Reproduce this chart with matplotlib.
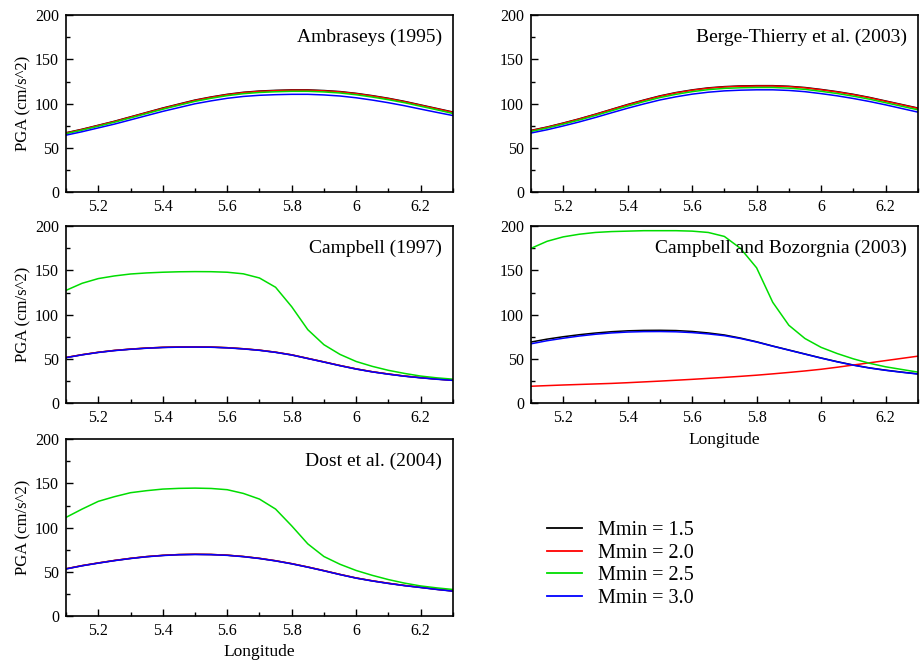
import numpy as np
import matplotlib
matplotlib.use("Agg")
import matplotlib.pyplot as plt
from matplotlib.ticker import MultipleLocator

plt.rcParams["font.family"] = ["Liberation Serif", "DejaVu Serif"]

# --- data: PGA along longitude, one curve per Mmin ---
lon = [5.10, 5.15, 5.20, 5.25, 5.30, 5.35, 5.40, 5.45, 5.50, 5.55, 5.60, 5.65, 5.70,
       5.75, 5.80, 5.85, 5.90, 5.95, 6.00, 6.05, 6.10, 6.15, 6.20, 6.25, 6.30]

mmin_labels = ["Mmin = 1.5", "Mmin = 2.0", "Mmin = 2.5", "Mmin = 3.0"]
colors = ["black", "#ff0000", "#00dd00", "#0000ff"]

# Ambraseys (1995)
amb_15 = [67, 71, 75.5, 80, 85, 90, 95, 99.5, 104, 107.5, 110.5, 112.8, 114.2,
          115, 115.5, 115.5, 114.8, 113.6, 111.6, 109, 106, 102.5, 98.5, 94.5, 90.5]
amb_20 = [66.7, 70.7, 75.2, 79.7, 84.7, 89.7, 94.6, 99.1, 103.6, 107.1, 110.1, 112.4, 113.8,
          114.6, 115.1, 115.1, 114.4, 113.2, 111.2, 108.6, 105.6, 102.1, 98.1, 94.1, 90.1]
amb_25 = [66, 70, 74.4, 78.9, 83.8, 88.7, 93.6, 98.1, 102.5, 106, 109, 111.2, 112.6,
          113.4, 113.9, 113.9, 113.2, 112, 110, 107.4, 104.4, 101, 97, 93, 88.8]
amb_30 = [64.3, 68.2, 72.5, 76.8, 81.6, 86.4, 91.2, 95.5, 99.8, 103.1, 106, 108.1, 109.4,
          110.1, 110.5, 110.5, 109.8, 108.6, 106.6, 104, 101, 97.6, 93.8, 90.1, 86.5]

# Berge-Thierry et al. (2003)
bt_15 = [69.7, 73.5, 78, 82.8, 88, 93.5, 99, 104, 108.7, 112.5, 115.5, 117.8, 119.2,
         120, 120.3, 120.3, 119.6, 118.2, 116, 113.5, 110.5, 107, 103, 99, 95]
bt_20 = [69.4, 73.2, 77.7, 82.5, 87.7, 93.2, 98.6, 103.6, 108.3, 112.1, 115.1, 117.4, 118.8,
         119.6, 119.9, 119.9, 119.2, 117.8, 115.6, 113.1, 110.1, 106.6, 102.6, 98.6, 94.6]
bt_25 = [68.5, 72.3, 76.7, 81.4, 86.5, 91.9, 97.2, 102.2, 106.8, 110.5, 113.5, 115.8, 117.2,
         117.9, 118.2, 118.2, 117.5, 116.1, 113.9, 111.4, 108.4, 105, 101, 97, 93]
bt_30 = [66.7, 70.4, 74.7, 79.3, 84.3, 89.6, 94.8, 99.6, 104.1, 107.7, 110.7, 112.9, 114.4,
         115.2, 115.6, 115.6, 114.9, 113.5, 111.3, 108.8, 105.8, 102.4, 98.6, 94.5, 90.4]

# Campbell (1997)
camp_15 = [51.5, 54.7, 57.4, 59.5, 61, 62.2, 63, 63.4, 63.5, 63.3, 62.6, 61.4, 59.8,
           57.5, 54.5, 50.5, 46.5, 42.4, 38.6, 35.4, 32.8, 30.5, 28.7, 27.1, 25.8]
camp_20 = camp_15
camp_25 = [127.5, 135.5, 140.8, 143.8, 146, 147.2, 148, 148.5, 148.7, 148.6, 148, 146.2, 141.5,
           131, 109, 83, 66, 55, 47, 41.5, 37, 33.5, 30.5, 28.5, 27]
camp_30 = [51.3, 54.5, 57.2, 59.3, 60.8, 62, 62.8, 63.2, 63.3, 63.1, 62.4, 61.2, 59.6,
           57.3, 54.3, 50.3, 46.3, 42.2, 38.4, 35.2, 32.6, 30.3, 28.5, 26.9, 25.6]

# Campbell and Bozorgnia (2003)
cb_15 = [69, 72.3, 75, 77.3, 79.2, 80.7, 81.7, 82.2, 82.3, 82, 81, 79.3, 77,
         73.5, 69.3, 64.5, 60, 55.5, 51, 46.8, 43, 39.8, 37.2, 35, 33]
cb_20 = [19, 19.7, 20.4, 21, 21.6, 22.2, 23, 23.9, 24.8, 25.8, 26.8, 27.9, 29,
         30.2, 31.5, 33, 34.6, 36.3, 38.2, 40.5, 43, 45.5, 48, 50.5, 53]
cb_25 = [175, 183, 188, 191, 193, 194, 194.5, 195, 195, 195, 194.5, 193, 188.5,
         175, 153, 114, 88, 73, 63, 56, 50, 45, 41, 38, 35]
cb_30 = [67, 70.5, 73.3, 75.8, 77.8, 79.3, 80.3, 80.8, 80.9, 80.6, 79.7, 78.2, 76.2,
         73, 69, 64.3, 59.8, 55.3, 50.8, 46.6, 42.8, 39.6, 37, 34.8, 32.8]

# Dost et al. (2004)
dost_15 = [53.4, 57, 60, 62.8, 65.2, 67.2, 68.6, 69.5, 69.8, 69.6, 68.8, 67.3, 65.2,
           62.5, 59.2, 55.4, 51.3, 47, 43, 39.8, 37, 34.5, 32.4, 30.2, 28.3]
dost_20 = dost_15
dost_25 = [111.6, 121, 129.7, 135, 139.5, 141.8, 143.6, 144.4, 144.7, 144.3, 142.9, 138.7, 132.3,
           121, 102, 81.6, 67.3, 58.5, 51.5, 46, 41.2, 37.2, 34, 31.8, 30]
dost_30 = [53.2, 56.8, 59.8, 62.6, 65, 67, 68.4, 69.3, 69.6, 69.4, 68.6, 67.1, 65,
           62.3, 59, 55.2, 51.1, 46.8, 42.8, 39.6, 36.8, 34.3, 32.2, 30, 28.1]

panels = [
    ("Ambraseys (1995)", [amb_15, amb_20, amb_25, amb_30]),
    ("Berge-Thierry et al. (2003)", [bt_15, bt_20, bt_25, bt_30]),
    ("Campbell (1997)", [camp_15, camp_20, camp_25, camp_30]),
    ("Campbell and Bozorgnia (2003)", [cb_15, cb_20, cb_25, cb_30]),
    ("Dost et al. (2004)", [dost_15, dost_20, dost_25, dost_30]),
]

fig = plt.figure(figsize=(9.21, 6.62), dpi=100)

# axes boxes in figure fractions: left col, right col; three rows
col_x = [0.0717, 0.5765]
col_w = 0.420
row_y = [0.710, 0.3912, 0.0695]
row_h = 0.267

for i, (title, series) in enumerate(panels):
    r, c = divmod(i, 2)
    ax = fig.add_axes([col_x[c], row_y[r], col_w, row_h])
    for vals, col in zip(series, colors):
        ax.plot(lon, vals, color=col, lw=1.1)
    ax.set_xlim(5.1, 6.3)
    ax.set_ylim(0, 200)
    ax.set_xticks([5.2, 5.4, 5.6, 5.8, 6.0, 6.2])
    ax.set_xticklabels(["5.2", "5.4", "5.6", "5.8", "6", "6.2"])
    ax.set_yticks([0, 50, 100, 150, 200])
    ax.xaxis.set_minor_locator(MultipleLocator(0.1))
    ax.yaxis.set_minor_locator(MultipleLocator(25))
    ax.tick_params(which="both", direction="in", top=False, right=False,
                   labelsize=11.5, pad=5)
    ax.tick_params(which="major", length=5, width=1)
    ax.tick_params(which="minor", length=3, width=1)
    for sp in ax.spines.values():
        sp.set_linewidth(1.2)
    ax.text(0.972, 0.875, title, transform=ax.transAxes, ha="right", va="center",
            fontsize=14)
    if c == 0:
        ax.set_ylabel("PGA (cm/s^2)", fontsize=12, labelpad=3)
    if i >= 3:
        ax.set_xlabel("Longitude", fontsize=12.5, labelpad=4)

# legend in the empty bottom-right slot
handles = [plt.Line2D([], [], color=col, lw=1.3) for col in colors]
fig.legend(handles, mmin_labels, loc="upper left", bbox_to_anchor=(0.585, 0.225),
           frameon=False, fontsize=14.5, handlelength=1.75, handletextpad=0.8,
           labelspacing=0.17, borderaxespad=0)

fig.savefig("out.png", dpi=100)
